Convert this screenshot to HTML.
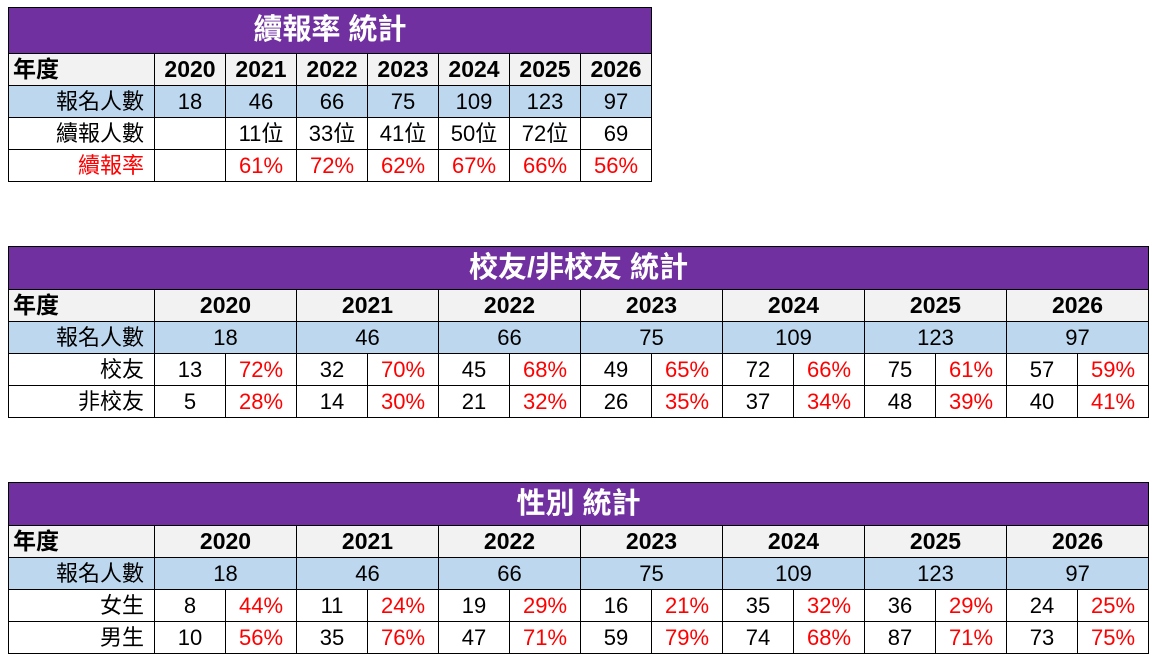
<!DOCTYPE html>
<html><head><meta charset="utf-8"><style>
body{margin:0;width:1160px;height:661px;background:#fff;position:relative;overflow:hidden;font-family:"Liberation Sans","Noto Sans CJK TC",sans-serif;}
table{position:absolute;left:8px;border-collapse:collapse;table-layout:fixed;font-size:22px;}
td{border:1px solid #000;padding:0;height:31px;text-align:center;white-space:nowrap;overflow:hidden;line-height:31px;}
td.l{text-align:right;padding-right:10px}
tr.t td{background:#7030A0;color:#fff;font-weight:bold;font-size:29px;height:45px;line-height:45px;text-align:center}
tr.t2 td{height:42px;line-height:42px}
tr.h td{background:#F2F2F2;font-weight:bold;font-size:23px}
tr.h td.y{text-align:left;padding-left:4px}
tr.b td{background:#BDD7EE}
.r{color:#f00}
</style></head><body>
<table style="top:7px;width:643px">
<colgroup><col style="width:146px"><col span="7" style="width:71px"></colgroup>
<tr class="t"><td colspan="8">續報率 統計</td></tr>
<tr class="h"><td class="y">年度</td><td>2020</td><td>2021</td><td>2022</td><td>2023</td><td>2024</td><td>2025</td><td>2026</td></tr>
<tr class="b"><td class="l">報名人數</td><td>18</td><td>46</td><td>66</td><td>75</td><td>109</td><td>123</td><td>97</td></tr>
<tr><td class="l">續報人數</td><td></td><td>11位</td><td>33位</td><td>41位</td><td>50位</td><td>72位</td><td>69</td></tr>
<tr class="r"><td class="l">續報率</td><td></td><td>61%</td><td>72%</td><td>62%</td><td>67%</td><td>66%</td><td>56%</td></tr>
</table>

<table style="top:246px;width:1140px">
<colgroup><col style="width:146px"><col span="14" style="width:71px"></colgroup>
<tr class="t t2"><td colspan="15">校友/非校友 統計</td></tr>
<tr class="h"><td class="y">年度</td><td colspan="2">2020</td><td colspan="2">2021</td><td colspan="2">2022</td><td colspan="2">2023</td><td colspan="2">2024</td><td colspan="2">2025</td><td colspan="2">2026</td></tr>
<tr class="b"><td class="l">報名人數</td><td colspan="2">18</td><td colspan="2">46</td><td colspan="2">66</td><td colspan="2">75</td><td colspan="2">109</td><td colspan="2">123</td><td colspan="2">97</td></tr>
<tr><td class="l">校友</td><td>13</td><td class="r">72%</td><td>32</td><td class="r">70%</td><td>45</td><td class="r">68%</td><td>49</td><td class="r">65%</td><td>72</td><td class="r">66%</td><td>75</td><td class="r">61%</td><td>57</td><td class="r">59%</td></tr>
<tr><td class="l">非校友</td><td>5</td><td class="r">28%</td><td>14</td><td class="r">30%</td><td>21</td><td class="r">32%</td><td>26</td><td class="r">35%</td><td>37</td><td class="r">34%</td><td>48</td><td class="r">39%</td><td>40</td><td class="r">41%</td></tr>
</table>

<table style="top:482px;width:1140px">
<colgroup><col style="width:146px"><col span="14" style="width:71px"></colgroup>
<tr class="t t2"><td colspan="15">性別 統計</td></tr>
<tr class="h"><td class="y">年度</td><td colspan="2">2020</td><td colspan="2">2021</td><td colspan="2">2022</td><td colspan="2">2023</td><td colspan="2">2024</td><td colspan="2">2025</td><td colspan="2">2026</td></tr>
<tr class="b"><td class="l">報名人數</td><td colspan="2">18</td><td colspan="2">46</td><td colspan="2">66</td><td colspan="2">75</td><td colspan="2">109</td><td colspan="2">123</td><td colspan="2">97</td></tr>
<tr><td class="l">女生</td><td>8</td><td class="r">44%</td><td>11</td><td class="r">24%</td><td>19</td><td class="r">29%</td><td>16</td><td class="r">21%</td><td>35</td><td class="r">32%</td><td>36</td><td class="r">29%</td><td>24</td><td class="r">25%</td></tr>
<tr><td class="l">男生</td><td>10</td><td class="r">56%</td><td>35</td><td class="r">76%</td><td>47</td><td class="r">71%</td><td>59</td><td class="r">79%</td><td>74</td><td class="r">68%</td><td>87</td><td class="r">71%</td><td>73</td><td class="r">75%</td></tr>
</table>
</body></html>
